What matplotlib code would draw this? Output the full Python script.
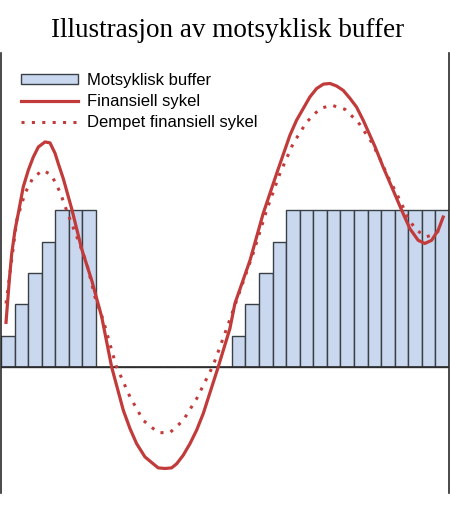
import numpy as np
import matplotlib
matplotlib.use("Agg")
import matplotlib.pyplot as plt

# buffer rate per period (bar units)
buffer_vals = [1, 2, 3, 4, 5, 5, 5,
               0, 0, 0, 0, 0, 0, 0, 0, 0, 0,
               1, 2, 3, 4,
               5, 5, 5, 5, 5, 5, 5, 5, 5, 5, 5, 5]

# financial cycle
cycle_x = [0.37, 0.61, 0.79, 1.03, 1.27, 1.64, 2.01, 2.38, 2.75, 3.24,
           3.61, 3.98, 4.22, 4.59, 5.21, 5.94,
           6.68, 7.42, 8.15, 9.01, 9.50, 9.99, 10.60, 11.21, 11.58, 12.08,
           12.57, 12.94, 13.42, 13.92, 14.41, 14.90,
           16.00, 16.86, 17.23, 18.34, 19.31, 20.30, 21.28, 21.77, 22.75,
           23.25, 23.75, 24.23, 24.72, 25.21, 25.70, 26.19, 26.68, 27.54,
           28.15, 28.89, 29.51, 30.12, 30.73, 31.22, 31.72, 32.20, 32.57]
cycle_y = [1.43, 2.77, 3.62, 4.36, 4.89, 5.74, 6.27, 6.69, 7.01, 7.17,
           7.14, 6.81, 6.48, 6.00, 5.04, 3.77,
           2.77, 1.60, 0.01, -1.37, -1.95, -2.43, -2.85, -3.07, -3.20, -3.22,
           -3.20, -3.07, -2.80, -2.43, -2.00, -1.47,
           0.01, 1.23, 2.03, 3.40, 4.89, 6.16, 7.38, 7.86, 8.60,
           8.87, 9.01, 9.03, 8.95, 8.81, 8.56, 8.28, 7.86, 7.03,
           6.37, 5.63, 5.00, 4.41, 4.04, 3.94, 4.04, 4.36, 4.78]

# damped cycle
damped_x = [0.37, 0.66, 1.16, 1.77, 2.38, 3.11, 3.73, 4.34, 4.96, 5.69,
            6.31, 6.92, 7.53, 8.47, 9.50, 10.48, 11.58, 12.44, 13.42, 14.41,
            15.63, 16.62, 17.36, 18.58, 19.57, 20.54, 21.52, 22.51, 23.49,
            24.35, 25.33, 26.31, 27.30, 27.91, 28.52, 29.14, 29.62, 29.99,
            30.61, 31.35, 31.96, 32.45]
damped_y = [2.03, 2.99, 4.68, 5.54, 6.05, 6.27, 6.11, 5.58, 4.84, 4.04,
            3.31, 2.24, 1.50, 0.06, -0.94, -1.69, -2.08, -2.08, -1.69, -1.00,
            0.06, 1.23, 2.13, 3.63, 5.00, 6.16, 7.12, 7.80, 8.23,
            8.34, 8.21, 7.80, 7.16, 6.64, 6.05, 5.53, 5.10, 4.73,
            4.36, 4.15, 4.25, 4.41]

red = '#c23b3b'

fig = plt.figure(figsize=(4.5, 5.08), dpi=100)
ax = fig.add_axes([1/450, 15/508, 448/450, 440/508])

pos = np.arange(len(buffer_vals)) + 0.5
bars = ax.bar(pos, buffer_vals, width=1.0, color='#c9d8ef',
              edgecolor='#3a3f45', linewidth=1.0,
              label='Motsyklisk buffer', zorder=2)
ax.axhline(0, color='#2a2a2a', lw=1.2, zorder=3)
solid, = ax.plot(cycle_x, cycle_y, color=red, lw=2.3,
                 solid_joinstyle='round', label='Finansiell sykel', zorder=4)
dotted, = ax.plot(damped_x, damped_y, color=red, lw=2.2, ls=(0, (1, 2.4)),
                  label='Dempet finansiell sykel', zorder=4)

ax.set_xlim(0, len(buffer_vals))
ax.set_ylim(-4, 10)
ax.set_xticks([])
ax.set_yticks([])
ax.spines['top'].set_visible(False)
ax.spines['bottom'].set_visible(False)
for s in ('left', 'right'):
    ax.spines[s].set_linewidth(1.2)
    ax.spines[s].set_color('#2a2a2a')

ax.legend(handles=[bars, solid, dotted], loc='upper left',
          bbox_to_anchor=(0.03, 0.97), frameon=False,
          prop={'family': 'Liberation Sans', 'size': 12},
          handlelength=3.4, handleheight=0.5, handletextpad=0.55,
          labelspacing=0.37, borderaxespad=0.0)

fig.text(0.505, 0.939, 'Illustrasjon av motsyklisk buffer',
         ha='center', va='center', family='Liberation Serif', fontsize=19.5)

fig.savefig('out.png', dpi=100)
